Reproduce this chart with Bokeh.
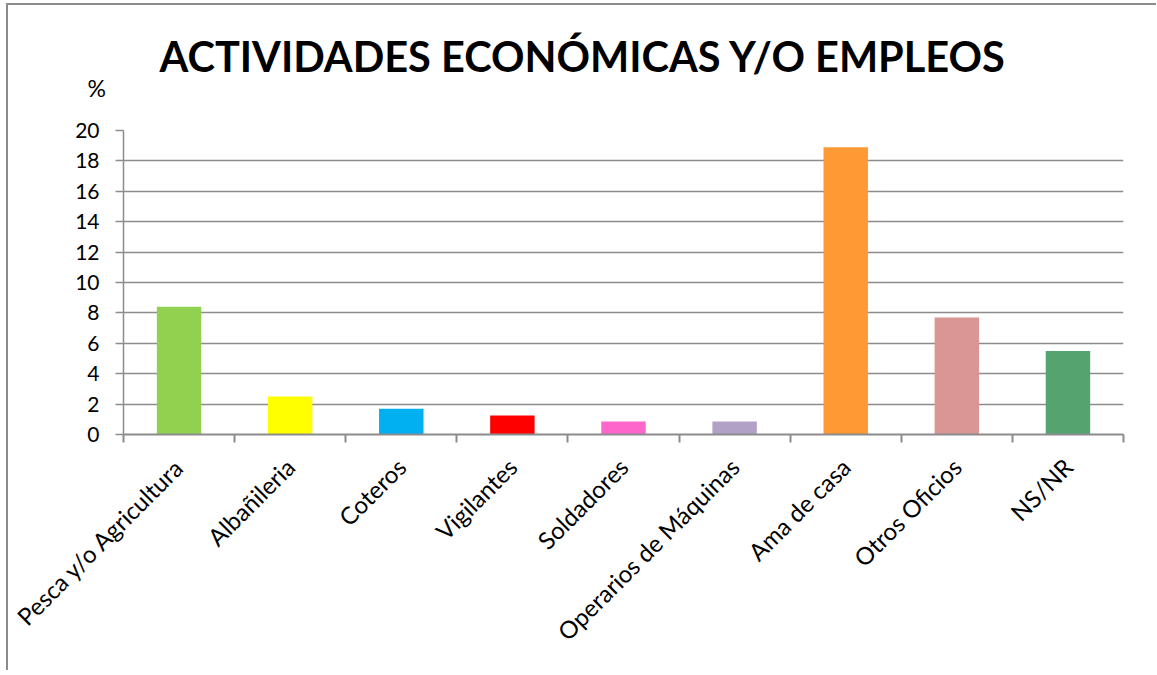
import math
from bokeh.plotting import figure
from bokeh.models import FixedTicker, Range1d, Title, ColumnDataSource
from bokeh.embed import file_html
from bokeh.resources import INLINE

categories = ["Pesca y/o Agricultura", "Albañileria", "Coteros", "Vigilantes",
              "Soldadores", "Operarios de Máquinas", "Ama de casa", "Otros Oficios", "NS/NR"]
values = [8.4, 2.5, 1.7, 1.25, 0.85, 0.85, 18.9, 7.7, 5.5]
colors = ["#92D050", "#FFFF00", "#00B0F0", "#FF0000", "#FF66CC",
          "#B2A1C7", "#FF9933", "#DA9694", "#55A36E"]
y_ticks = [0, 2, 4, 6, 8, 10, 12, 14, 16, 18, 20]
title_text = "ACTIVIDADES ECONÓMICAS Y/O  EMPLEOS"
unit_text = "%"

FONT = "Lato"
GRID = "#8c8c8c"

xs = [i + 0.5 for i in range(len(categories))]
src = ColumnDataSource(dict(x=xs, top=values, color=colors))

p = figure(width=1150, height=667, output_backend="svg", toolbar_location=None,
           x_range=Range1d(0, len(categories)), y_range=Range1d(0, 20),
           min_border_left=115, min_border_right=35, min_border_top=125, min_border_bottom=238)
p.outline_line_color = None
p.background_fill_color = "white"
p.border_fill_color = "white"
p.styles = {"border-left": "2px solid #8c8c8c", "border-top": "2px solid #8c8c8c",
            "margin-left": "6px", "margin-top": "3px"}

p.title.text = title_text
p.title.text_font = FONT
p.title.text_font_style = "bold"
p.title.text_font_size = "41.5px"
p.title.align = "left"
p.title.offset = 36
p.title.standoff = -76
p.title.text_color = "black"

p.add_layout(Title(text=unit_text, text_font=FONT, text_font_size="23px",
                   text_font_style="normal", align="left", offset=-36,
                   text_color="black", standoff=58), "above")

p.vbar(x="x", top="top", width=0.4, bottom=0, fill_color="color", line_color=None, source=src)

# y axis
p.yaxis.ticker = FixedTicker(ticks=y_ticks, minor_ticks=[])
p.yaxis.axis_line_color = GRID
p.yaxis.axis_line_width = 1.5
p.yaxis.major_tick_line_color = GRID
p.yaxis.major_tick_line_width = 1.5
p.yaxis.major_tick_out = 8
p.yaxis.major_tick_in = 0
p.yaxis.minor_tick_line_color = None
p.yaxis.major_label_text_font = FONT
p.yaxis.major_label_text_font_size = "21px"
p.yaxis.major_label_text_color = "black"
p.yaxis.major_label_standoff = 16

# x axis
p.xaxis.ticker = FixedTicker(ticks=xs, minor_ticks=list(range(len(categories) + 1)))
p.xaxis.major_label_overrides = {x: c for x, c in zip(xs, categories)}
p.xaxis.major_label_orientation = math.pi / 4
p.xaxis.axis_line_color = GRID
p.xaxis.axis_line_width = 2
p.xaxis.major_tick_line_color = None
p.xaxis.major_tick_out = 0
p.xaxis.major_tick_in = 0
p.xaxis.minor_tick_line_color = GRID
p.xaxis.minor_tick_line_width = 2
p.xaxis.minor_tick_out = 8
p.xaxis.minor_tick_in = 0
p.xaxis.major_label_text_font = FONT
p.xaxis.major_label_text_font_size = "24px"
p.xaxis.major_label_text_color = "black"
p.xaxis.major_label_standoff = 20

p.xgrid.grid_line_color = None
p.ygrid.ticker = FixedTicker(ticks=y_ticks)
p.ygrid.grid_line_color = GRID
p.ygrid.grid_line_width = 1.5

open("out.html", "w").write(file_html(p, INLINE))
